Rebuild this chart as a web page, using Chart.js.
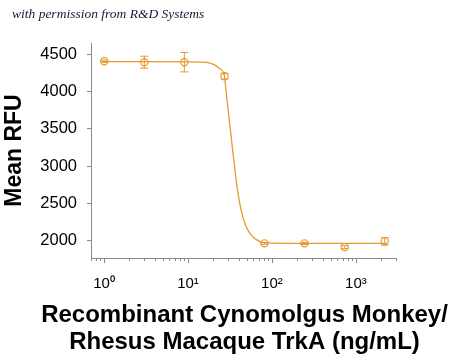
<!DOCTYPE html>
<html><head><meta charset="utf-8">
<script src="https://cdn.jsdelivr.net/npm/chart.js@4.4.0/dist/chart.umd.min.js"></script>
<style>
html,body{margin:0;padding:0;background:#fff;}
#wrap{position:relative;width:450px;height:357px;}
#wm{position:absolute;left:12px;top:6px;font:italic 13.5px "Liberation Serif","DejaVu Serif",serif;color:#141a33;white-space:nowrap;}
canvas{display:block;}
</style></head><body>
<div id="wrap"><canvas id="c" width="450" height="357"></canvas><div id="wm">with permission from R&amp;D Systems</div></div>
<script>
// Measured data (ng/mL vs Mean RFU)
const concentrations = [1.006, 3.02, 9.05, 27.2, 81.5, 244.4, 733.3, 2200];
const meanRFU = [4406, 4393, 4393, 4205, 1966, 1966, 1916, 1993];
const errRFU = [15, 80, 130, 38, 12, 15, 20, 50];
// Fitted curve
const curveX = [0.95, 3.4, 10.3, 13.5, 17.8, 20.4, 23.4, 27.2, 28.2, 31.2, 34.6, 38.6, 44.4, 53.1, 73.5, 91.7, 209, 800, 2340];
const curveY = [4400, 4400, 4398, 4395, 4385, 4360, 4313, 4205, 4041, 3594, 3148, 2702, 2345, 2121, 1987, 1972, 1966, 1965, 1965];
const yTickValues = [2000, 2500, 3000, 3500, 4000, 4500];
const xTickValues = [1, 10, 100, 1000];
const xTickLabels = ['10\u2070', '10\u00B9', '10\u00B2', '10\u00B3'];
const xTitleLines = ['Recombinant Cynomolgus Monkey/', 'Rhesus Macaque TrkA (ng/mL)'];

const ORANGE = '#E69A2E';
const AXIS = '#8a8a8a';
const FONT = '"Liberation Sans", Arial, sans-serif';
const X_MIN = 0.7, X_MAX = 3000, Y_MIN = 1770, Y_MAX = 4650;

const minorTicks = [];
for (let d = -1; d <= 3; d++) {
  for (let m = 1; m <= 9; m++) {
    const v = m * Math.pow(10, d);
    if (v >= X_MIN * 0.999 && v <= X_MAX * 1.001) minorTicks.push(v);
  }
}

const errorBars = {
  id: 'errorBars',
  afterDatasetsDraw(chart) {
    const {ctx, scales: {x, y}} = chart;
    ctx.save();
    ctx.strokeStyle = ORANGE;
    ctx.lineWidth = 1;
    concentrations.forEach((c, i) => {
      const px = x.getPixelForValue(c);
      const top = y.getPixelForValue(meanRFU[i] + errRFU[i]);
      const bot = y.getPixelForValue(meanRFU[i] - errRFU[i]);
      ctx.beginPath();
      ctx.moveTo(px, top); ctx.lineTo(px, bot);
      ctx.moveTo(px - 4, top); ctx.lineTo(px + 4, top);
      ctx.moveTo(px - 4, bot); ctx.lineTo(px + 4, bot);
      ctx.stroke();
    });
    ctx.restore();
  }
};

const xAxisExtras = {
  id: 'xAxisExtras',
  afterDraw(chart) {
    const {ctx, scales: {x}} = chart;
    ctx.save();
    ctx.strokeStyle = AXIS;
    ctx.lineWidth = 1;
    minorTicks.forEach(v => {
      const px = Math.round(x.getPixelForValue(v)) + 0.5;
      const major = xTickValues.includes(v);
      ctx.beginPath();
      ctx.moveTo(px, x.top);
      ctx.lineTo(px, x.top + (major ? 5 : 3));
      ctx.stroke();
    });
    // axis title (drawn without width compression)
    ctx.fillStyle = '#000';
    ctx.font = 'bold 24px ' + FONT;
    ctx.textAlign = 'center';
    ctx.textBaseline = 'alphabetic';
    const cx = (x.left + x.right) / 2 + 1;
    ctx.fillText(xTitleLines[0], cx, 322);
    ctx.fillText(xTitleLines[1], cx, 348.5);
    ctx.restore();
  }
};

new Chart(document.getElementById('c'), {
  type: 'scatter',
  data: {
    datasets: [
      {
        type: 'line',
        data: curveX.map((v, i) => ({x: v, y: curveY[i]})),
        borderColor: ORANGE,
        borderWidth: 1.3,
        pointRadius: 0,
        cubicInterpolationMode: 'monotone',
        fill: false
      },
      {
        data: concentrations.map((v, i) => ({x: v, y: meanRFU[i]})),
        pointStyle: 'circle',
        pointRadius: 3.6,
        borderColor: ORANGE,
        borderWidth: 1.2,
        backgroundColor: 'rgba(0,0,0,0)'
      }
    ]
  },
  options: {
    responsive: false,
    animation: false,
    devicePixelRatio: 1,
    layout: {padding: {top: 43, right: 54, left: 0, bottom: 0}},
    plugins: {legend: {display: false}, tooltip: {enabled: false}},
    scales: {
      x: {
        type: 'logarithmic',
        min: X_MIN, max: X_MAX,
        afterBuildTicks(s) { s.ticks = minorTicks.map(v => ({value: v})); },
        afterFit(s) { s.height = 99; },
        grid: {display: false, drawTicks: false},
        border: {display: true, color: AXIS, width: 1},
        ticks: {
          autoSkip: false, maxRotation: 0, padding: 17,
          color: '#000',
          font: {family: FONT, size: 15},
          callback(v) { const k = xTickValues.indexOf(v); return k >= 0 ? xTickLabels[k] : ''; }
        },
        title: {display: false}
      },
      y: {
        min: Y_MIN, max: Y_MAX,
        afterBuildTicks(s) { s.ticks = yTickValues.map(v => ({value: v})); },
        afterFit(s) { s.width = 91; },
        grid: {display: true, drawOnChartArea: false, drawTicks: true, tickLength: 4, color: AXIS},
        border: {display: true, color: AXIS, width: 1},
        ticks: {
          padding: 10, color: '#000',
          font: {family: FONT, size: 16.5},
          callback(v) { return String(v); }
        },
        title: {
          display: true, text: 'Mean RFU', color: '#000',
          font: {family: FONT, size: 23, weight: 'bold', lineHeight: 1.2},
          padding: {top: 1, bottom: 0}
        }
      }
    }
  },
  plugins: [errorBars, xAxisExtras]
});
</script>
</body></html>
